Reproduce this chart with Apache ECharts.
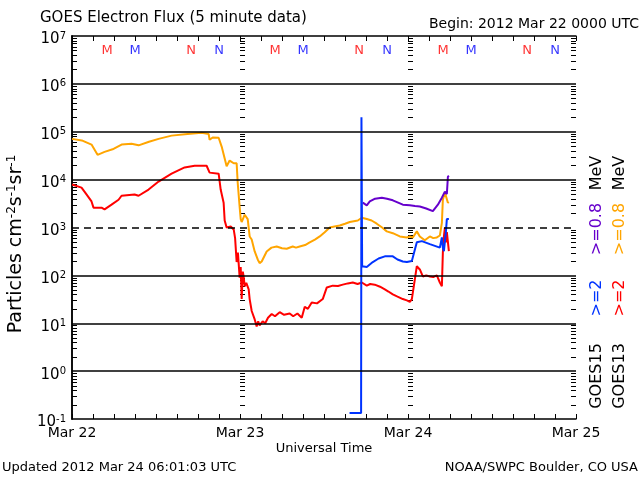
<!DOCTYPE html>
<html><head><meta charset="utf-8">
<script src="https://cdn.jsdelivr.net/npm/echarts@6/dist/echarts.min.js"></script>
<style>html,body{margin:0;padding:0;background:#fff}#c{width:640px;height:480px}</style>
</head><body><div id="c"></div>
<script>
// ---- data (x in hours since 2012 Mar 22 00:00 UTC, y in particles cm^-2 s^-1 sr^-1)
const dayLabels = ['Mar 22', 'Mar 23', 'Mar 24', 'Mar 25'];
const goes13_08 = [[0,7.1e4],[1.4,6.6e4],[2.79,5.4e4],[3.65,3.3e4],[4.65,3.8e4],[5.8,4.3e4],[7.08,5.4e4],[8.51,5.6e4],[9.51,5.2e4],[11,6.2e4],[12.37,7.1e4],[14.23,8.3e4],[16.5,9e4],[18.52,9.5e4],[19.52,9e4],[19.66,6.8e4],[20.1,7.6e4],[20.95,7.5e4],[21.38,4.9e4],[22.09,1.9e4],[22.52,2.5e4],[23.1,2.2e4],[23.52,2.2e4],[23.67,8.7e3],[23.95,2.7e3],[24.1,1.5e3],[24.24,1.3e3],[24.67,1.85e3],[25.1,1.5e3],[25.38,650],[25.67,560],[26.1,316],[26.53,215],[26.8,180],[27.1,195],[27.81,316],[28.5,380],[29.24,400],[30.0,370],[30.67,360],[31.53,400],[32.0,380],[32.53,400],[33.3,430],[33.96,490],[34.7,560],[35.39,650],[36.1,800],[36.82,1000],[37.5,1050],[38.25,1100],[39.0,1200],[39.68,1300],[40.83,1400],[41.4,1600],[42.11,1500],[42.8,1400],[43.54,1200],[44.3,1000],[44.97,830],[45.83,760],[46.83,650],[47.84,620],[48.26,650],[48.69,620],[49.26,830],[49.69,650],[50.4,540],[51.12,650],[51.6,600],[52.12,620],[52.55,680],[52.84,1250],[52.98,3800],[53.27,5400],[53.55,5000],[53.7,3300],[53.84,3400]];
const goes13_2 = [[0,7.9e3],[1.36,6.8e3],[2.07,4.9e3],[2.79,3.5e3],[3.07,2.6e3],[4.22,2.6e3],[4.65,2.4e3],[5.65,3e3],[6.65,3.8e3],[7.08,4.6e3],[8.94,4.9e3],[9.51,4.6e3],[10.94,6.2e3],[12.37,9.1e3],[14.23,1.33e4],[16.09,1.8e4],[17.52,1.95e4],[19.23,1.95e4],[19.66,1.4e4],[20.95,1.33e4],[21.24,6.2e3],[21.66,3.3e3],[21.81,1.4e3],[22.09,1e3],[22.67,1.05e3],[23.1,910],[23.3,600],[23.52,190],[23.7,300],[23.95,90],[24.1,150],[24.24,32],[24.4,120],[24.52,95],[24.67,59],[24.9,70],[25.24,51],[25.38,32],[25.67,18],[26.1,12],[26.38,8.6],[26.6,11],[26.8,9],[27.24,11],[27.6,10],[28.0,13],[28.53,15.6],[29.0,14],[29.67,17],[30.3,15],[31.1,16],[31.6,14],[32.2,16],[32.82,13],[33.25,22],[33.7,20],[34.25,27],[35.0,26],[35.82,32],[36.4,56],[37.25,61],[38.0,60],[38.68,64],[39.4,68],[40.11,71],[40.8,66],[41.4,71],[42.11,61],[42.6,66],[43.25,64],[44.0,58],[44.69,51],[45.2,46],[45.83,40],[46.5,36],[47.26,32],[47.84,30],[48.26,28],[48.55,32],[49.26,155],[49.69,133],[50.12,95],[50.6,100],[51.12,95],[51.6,92],[52.12,100],[52.55,71],[52.84,59],[52.98,300],[53.13,650],[53.27,1000],[53.41,490],[53.55,800],[53.84,320]];
const goes15_08 = [[41.54,3.3e3],[42.11,2.9e3],[42.54,3.5e3],[43.3,4e3],[44.26,4.2e3],[45.0,4e3],[45.83,3.7e3],[47.26,3e3],[48.26,2.9e3],[49.0,2.8e3],[49.69,2.75e3],[50.6,2.5e3],[51.55,2.2e3],[52.27,3e3],[52.84,4.2e3],[53.27,5.6e3],[53.55,5e3],[53.7,1.15e4],[53.84,1.2e4]];
const goes15_2 = [[39.65,0.134],[41.3,0.134],[41.35,2e5],[41.45,155],[41.54,155],[42.11,150],[42.97,190],[43.8,225],[44.69,250],[45.83,250],[46.5,215],[47.26,195],[47.84,190],[48.55,200],[49.26,490],[49.98,520],[51.12,450],[52.55,380],[52.84,620],[52.98,380],[53.13,320],[53.41,800],[53.55,1500],[53.84,1500]];
// local noon (N) / midnight (M) markers: [hour, label]
const goes13Markers = [[5,'M'],[17,'N'],[29,'M'],[41,'N'],[53,'M'],[65,'N']];
const goes15Markers = [[9,'M'],[21,'N'],[33,'M'],[45,'N'],[57,'M'],[69,'N']];
const markerLevel = 4.9e6;
const solidGrid = [1, 10, 100, 1e4, 1e5, 1e6];
const dashedGrid = [1e3];
const tickColumns = [0, 24, 48, 72];

const FONT = 'DejaVu Sans';
const minorVals = [];
for (let e = -1; e <= 6; e++) for (let k = 2; k <= 9; k++) minorVals.push(k * Math.pow(10, e));
const tickData = [];
tickColumns.forEach(c => minorVals.forEach(v => tickData.push([c, v])));

const chart = echarts.init(document.getElementById('c'), null, {renderer: 'canvas'});
const xBase = {
  type: 'value', min: 0, max: 72, interval: 24,
  axisLine: {show: true, lineStyle: {color: '#000', width: 1.5}},
  axisTick: {show: true, inside: true, length: 5, lineStyle: {color: '#000'}},
  minorTick: {show: true, splitNumber: 8, length: 5, lineStyle: {color: '#000'}},
  splitLine: {show: false}
};
const yBase = {
  type: 'log', logBase: 10, min: 0.1, max: 1e7, splitNumber: 8,
  axisLine: {show: true, lineStyle: {color: '#000', width: 1.5}},
  axisTick: {show: false}, splitLine: {show: false}
};
chart.setOption({
  animation: false,
  backgroundColor: '#fff',
  grid: {left: 72, right: 64, top: 36, bottom: 61, containLabel: false},
  xAxis: [
    Object.assign({}, xBase, {position: 'bottom',
      axisLabel: {show: true, margin: 7, color: '#000', fontFamily: FONT, fontSize: 14,
        formatter: v => dayLabels[Math.round(v / 24)]}}),
    Object.assign({}, xBase, {position: 'top', axisLabel: {show: false}})
  ],
  yAxis: [
    Object.assign({}, yBase, {position: 'left',
      axisLabel: {show: true, margin: 6, color: '#000', padding: [6, 0, 0, 0],
        formatter: v => { const e = Math.round(Math.log10(v)); return '{b|10}{s|' + e + '}'; },
        rich: {
          b: {fontFamily: FONT, fontSize: 15, color: '#000', lineHeight: 16, verticalAlign: 'bottom'},
          s: {fontFamily: FONT, fontSize: 10, color: '#000', lineHeight: 10, padding: [0, 0, 9, 0], verticalAlign: 'top'}
        }}}),
    Object.assign({}, yBase, {position: 'right', axisLabel: {show: false}})
  ],
  series: [
    {type: 'line', name: 'grid', data: [], silent: true, z: 1,
      markLine: {symbol: 'none', silent: true, label: {show: false}, animation: false,
        lineStyle: {color: '#000', width: 1.5, type: 'solid'},
        data: solidGrid.map(v => ({yAxis: v}))
          .concat(dashedGrid.map(v => ({yAxis: v, lineStyle: {color: '#000', width: 1.5, type: [7, 5]}})))}},
    {type: 'custom', name: 'ticks', data: tickData, silent: true, z: 2, encode: {x: 0, y: 1},
      renderItem: (params, api) => {
        const c = api.value(0);
        const p = api.coord([c, api.value(1)]);
        const x1 = c === 72 ? p[0] - 5 : p[0];
        const x2 = c === 72 ? p[0] : p[0] + 5;
        const y = Math.round(p[1]) + 0.5;
        return {type: 'line', shape: {x1: x1, y1: y, x2: x2, y2: y}, style: {stroke: '#000', lineWidth: 1}};
      }},
    {type: 'line', name: 'GOES13 >=0.8 MeV', data: goes13_08, showSymbol: false, z: 3,
      lineStyle: {color: '#ffa500', width: 2}},
    {type: 'line', name: 'GOES13 >=2 MeV', data: goes13_2, showSymbol: false, z: 3,
      lineStyle: {color: '#ff0000', width: 2}},
    {type: 'line', name: 'GOES15 >=0.8 MeV', data: goes15_08, showSymbol: false, z: 3,
      lineStyle: {color: '#6600cc', width: 2}},
    {type: 'line', name: 'GOES15 >=2 MeV', data: goes15_2, showSymbol: false, z: 4,
      lineStyle: {color: '#0033ff', width: 2}},
    {type: 'scatter', name: 'g13m', symbolSize: 0, silent: true, z: 5,
      data: goes13Markers.map(m => ({value: [m[0], markerLevel], name: m[1]})),
      label: {show: true, position: 'inside', formatter: p => p.name, color: '#ff0000', fontFamily: FONT, fontSize: 13}},
    {type: 'scatter', name: 'g15m', symbolSize: 0, silent: true, z: 5,
      data: goes15Markers.map(m => ({value: [m[0], markerLevel], name: m[1]})),
      label: {show: true, position: 'inside', formatter: p => p.name, color: '#0000ff', fontFamily: FONT, fontSize: 13}}
  ],
  graphic: [
    {type: 'text', x: 40, y: 18, style: {text: 'GOES Electron Flux (5 minute data)', fill: '#000', font: '15px "DejaVu Sans"', align: 'left', verticalAlign: 'middle'}},
    {type: 'text', x: 639, y: 24, style: {text: 'Begin: 2012 Mar 22 0000 UTC', fill: '#000', font: '14px "DejaVu Sans"', align: 'right', verticalAlign: 'middle'}},
    {type: 'text', x: 324, y: 449, style: {text: 'Universal Time', fill: '#000', font: '13px "DejaVu Sans"', align: 'center', verticalAlign: 'middle'}},
    {type: 'text', x: 2, y: 468, style: {text: 'Updated 2012 Mar 24 06:01:03 UTC', fill: '#000', font: '13px "DejaVu Sans"', align: 'left', verticalAlign: 'middle'}},
    {type: 'text', x: 638, y: 468, style: {text: 'NOAA/SWPC Boulder, CO USA', fill: '#000', font: '13px "DejaVu Sans"', align: 'right', verticalAlign: 'middle'}},
    {type: 'text', x: 16, y: 244, rotation: Math.PI / 2, style: {
      text: '{a|Particles cm}{s|-2}{a|s}{s|-1}{a|sr}{s|-1}', align: 'center', verticalAlign: 'middle',
      rich: {a: {fontFamily: FONT, fontSize: 19, fill: '#000', lineHeight: 20, verticalAlign: 'bottom'},
             s: {fontFamily: FONT, fontSize: 12, fill: '#000', lineHeight: 12, padding: [0, 0, 11, 0], verticalAlign: 'top'}}}},
    {type: 'text', x: 597, y: 376, rotation: Math.PI / 2, style: {text: 'GOES15', fill: '#000', font: '16px "DejaVu Sans"', align: 'center', verticalAlign: 'middle'}},
    {type: 'text', x: 597, y: 298, rotation: Math.PI / 2, style: {text: '>=2', fill: '#0033ff', font: '16px "DejaVu Sans"', align: 'center', verticalAlign: 'middle'}},
    {type: 'text', x: 597, y: 229, rotation: Math.PI / 2, style: {text: '>=0.8', fill: '#6600cc', font: '16px "DejaVu Sans"', align: 'center', verticalAlign: 'middle'}},
    {type: 'text', x: 597, y: 173, rotation: Math.PI / 2, style: {text: 'MeV', fill: '#000', font: '16px "DejaVu Sans"', align: 'center', verticalAlign: 'middle'}},
    {type: 'text', x: 620, y: 376, rotation: Math.PI / 2, style: {text: 'GOES13', fill: '#000', font: '16px "DejaVu Sans"', align: 'center', verticalAlign: 'middle'}},
    {type: 'text', x: 620, y: 298, rotation: Math.PI / 2, style: {text: '>=2', fill: '#ff0000', font: '16px "DejaVu Sans"', align: 'center', verticalAlign: 'middle'}},
    {type: 'text', x: 620, y: 229, rotation: Math.PI / 2, style: {text: '>=0.8', fill: '#ffa500', font: '16px "DejaVu Sans"', align: 'center', verticalAlign: 'middle'}},
    {type: 'text', x: 620, y: 173, rotation: Math.PI / 2, style: {text: 'MeV', fill: '#000', font: '16px "DejaVu Sans"', align: 'center', verticalAlign: 'middle'}}
  ]
});
</script></body></html>
